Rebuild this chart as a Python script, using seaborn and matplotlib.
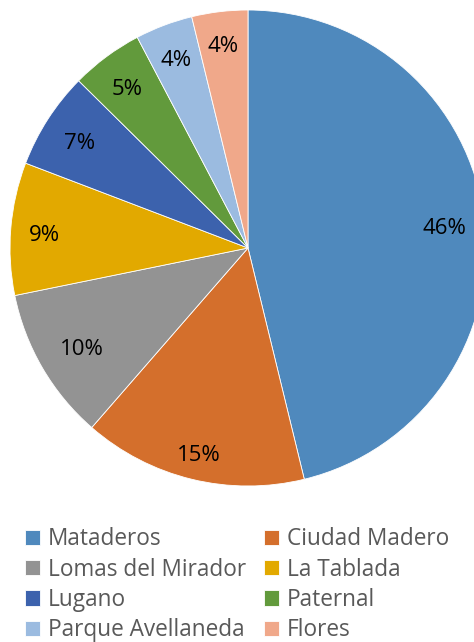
import matplotlib
matplotlib.use("Agg")
import matplotlib.pyplot as plt
import matplotlib.transforms as mtransforms
import seaborn as sns
import numpy as np

# barrios y porcentajes
barrios = ["Mataderos", "Ciudad Madero", "Lomas del Mirador", "La Tablada",
           "Lugano", "Paternal", "Parque Avellaneda", "Flores"]
valores = [46.2, 15.2, 10.4, 9.0, 6.6, 4.9, 3.9, 3.8]
colores = ["#4f89bd", "#d46f2c", "#939393", "#e2a900",
           "#3c62ad", "#629a3c", "#9bbbe0", "#f0a88a"]
# distance of each % label from the centre (excel "best fit")
dist_etiquetas = [0.83, 0.88, 0.81, 0.86, 0.84, 0.85, 0.86, 0.87]

sns.set_theme(style="white")
plt.rcParams['font.family'] = ['Open Sans', 'DejaVu Sans']

fig = plt.figure(figsize=(4.74, 6.42), dpi=100)
# pie centre ~ (248, 248) px, radius ~238 px
ax = fig.add_axes([10 / 474, 156 / 642, 476 / 474, 476 / 642])

wedges, texts, autotexts = ax.pie(
    valores,
    colors=sns.color_palette(colores),
    startangle=90,
    counterclock=False,
    autopct="%.0f%%",
    pctdistance=0.83,
    radius=1.0,
    wedgeprops=dict(edgecolor="white", linewidth=0.6),
    textprops=dict(fontsize=16, color="black"),
)
# nudge labels a few px down to sit like the original
trans = mtransforms.offset_copy(ax.transData, fig=fig, y=-4, units="dots")
for w, t, d in zip(wedges, autotexts, dist_etiquetas):
    ang = np.deg2rad((w.theta1 + w.theta2) / 2)
    t.set_position((d * np.cos(ang), d * np.sin(ang)))
    t.set_transform(trans)

ax.set_xlim(-1, 1)
ax.set_ylim(-1, 1)
ax.set_aspect("auto")
ax.axis("off")

# row-wise order for a 2 column legend
orden = [0, 2, 4, 6, 1, 3, 5, 7]
fig.legend([wedges[i] for i in orden], [barrios[i] for i in orden],
           ncol=2, loc="upper left", bbox_to_anchor=(14 / 474, 1 - 516 / 642),
           frameon=False, fontsize=16.3, labelcolor="#595959",
           handlelength=0.65, handleheight=0.65, handletextpad=0.35,
           columnspacing=0.8, labelspacing=0.28, borderpad=0)

fig.savefig("out.png", dpi=100)
